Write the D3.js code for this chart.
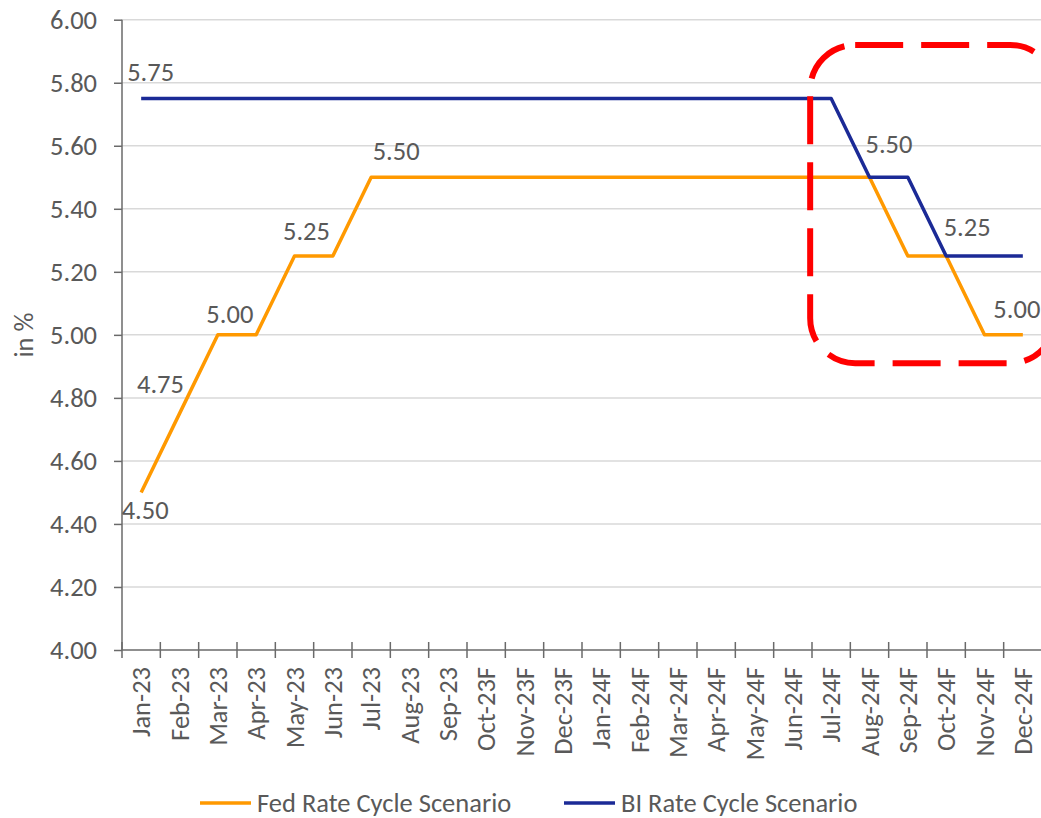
<!DOCTYPE html>
<html>
<head>
<meta charset="utf-8">
<script src="https://cdn.jsdelivr.net/npm/d3@7"></script>
<style>
  html, body { margin: 0; padding: 0; background: #fff; }
  svg text { font-family: Carlito, Calibri, Lato, "Open Sans", sans-serif; fill: #595959; }
</style>
</head>
<body>
<svg id="chart" width="1041" height="818"></svg>
<script>
const categories = ["Jan-23","Feb-23","Mar-23","Apr-23","May-23","Jun-23","Jul-23","Aug-23","Sep-23",
  "Oct-23F","Nov-23F","Dec-23F","Jan-24F","Feb-24F","Mar-24F","Apr-24F","May-24F","Jun-24F",
  "Jul-24F","Aug-24F","Sep-24F","Oct-24F","Nov-24F","Dec-24F"];
const fedRate = [4.50,4.75,5.00,5.00,5.25,5.25,5.50,5.50,5.50,5.50,5.50,5.50,
  5.50,5.50,5.50,5.50,5.50,5.50,5.50,5.50,5.25,5.25,5.00,5.00];
const biRate = [5.75,5.75,5.75,5.75,5.75,5.75,5.75,5.75,5.75,5.75,5.75,5.75,
  5.75,5.75,5.75,5.75,5.75,5.75,5.75,5.50,5.50,5.25,5.25,5.25];
const yTicks = [4.00,4.20,4.40,4.60,4.80,5.00,5.20,5.40,5.60,5.80,6.00];
const fedLabelIdx = [0,1,2,4,6,23];
const biLabelIdx = [0,19,21];
const seriesNames = ["Fed Rate Cycle Scenario","BI Rate Cycle Scenario"];

const colors = { fed: "#FF9900", bi: "#1B2A96", grid: "#D9D9D9", axis: "#6A6A6A" };
const fontSize = 26.5;

const svg = d3.select("#chart");
const mLeft = 122, mRight = 1042, mTop = 19.7, mBottom = 650;

const x = d3.scaleBand().domain(categories).range([mLeft, mRight]).padding(0);
const xc = c => x(c) + x.bandwidth() / 2;
const y = d3.scaleLinear().domain([4, 6]).range([mBottom, mTop]);

// gridlines
svg.append("g").selectAll("line").data(yTicks.filter(d => d > 4)).join("line")
  .attr("x1", mLeft).attr("x2", 1041).attr("y1", d => y(d)).attr("y2", d => y(d))
  .attr("stroke", colors.grid).attr("stroke-width", 1.5);

// y axis
const yAxis = svg.append("g").attr("transform", `translate(${mLeft},0)`)
  .call(d3.axisLeft(y).tickValues(yTicks).tickFormat(d3.format(".2f")).tickSize(8).tickPadding(17));
yAxis.select(".domain").attr("stroke", colors.axis).attr("stroke-width", 1.5).attr("d", `M0,${mTop}V${mBottom}`);
yAxis.selectAll(".tick line").attr("stroke", colors.axis).attr("stroke-width", 1.5);
yAxis.selectAll(".tick text").style("font-size", fontSize + "px").attr("fill", "#595959")
  .style("font-family", "Carlito, Calibri, Lato, sans-serif");

// x axis: ticks at band boundaries
const xg = svg.append("g");
xg.append("line").attr("x1", mLeft).attr("x2", 1041).attr("y1", mBottom).attr("y2", mBottom)
  .attr("stroke", colors.axis).attr("stroke-width", 1.5);
xg.selectAll("line.tk").data(categories).join("line").attr("class", "tk")
  .attr("x1", d => x(d)).attr("x2", d => x(d)).attr("y1", mBottom - 8).attr("y2", mBottom + 8)
  .attr("stroke", colors.axis).attr("stroke-width", 1.5);
xg.selectAll("text").data(categories).join("text")
  .attr("transform", d => `translate(${xc(d)},${mBottom + 17}) rotate(-90)`)
  .attr("text-anchor", "end").attr("dy", "0.35em")
  .style("font-size", fontSize + "px").text(d => d);

// y title
svg.append("text").attr("transform", `translate(24,335) rotate(-90)`)
  .attr("text-anchor", "middle").attr("dy", "0.35em").style("font-size", fontSize + "px").text("in %");

// lines
const line = d3.line().x((d, i) => xc(categories[i])).y(d => y(d));
svg.append("path").datum(fedRate).attr("d", line).attr("fill", "none")
  .attr("stroke", colors.fed).attr("stroke-width", 3.5).attr("stroke-linejoin", "round");
svg.append("path").datum(biRate).attr("d", line).attr("fill", "none")
  .attr("stroke", colors.bi).attr("stroke-width", 3.5).attr("stroke-linejoin", "round");

// data labels (offset from their point, [dx of centre, dy of baseline])
const fedOffsets = { 0: [4, 27], 1: [-19, -21], 2: [12, -12], 4: [12, -16], 6: [25, -17], 23: [-6, -17] };
const biOffsets = { 0: [9.5, -17], 19: [19.5, -24], 21: [21, -20] };
function addLabels(idx, vals, offs) {
  svg.append("g").selectAll("text").data(idx).join("text")
    .attr("x", i => xc(categories[i]) + offs[i][0])
    .attr("y", i => y(vals[i]) + offs[i][1])
    .attr("text-anchor", "middle").style("font-size", fontSize + "px")
    .text(i => d3.format(".2f")(vals[i]));
}
addLabels(fedLabelIdx, fedRate, fedOffsets);
addLabels(biLabelIdx, biRate, biOffsets);

// highlight box
svg.append("rect").attr("x", xc("Jul-24F") - 21).attr("y", y(5.92)).attr("width", 245).attr("height", y(4.91) - y(5.92))
  .attr("rx", 45).attr("ry", 45).attr("fill", "none")
  .attr("stroke", "#FF0000").attr("stroke-width", 6).attr("stroke-dasharray", "48,18");

// legend
const legend = svg.append("g");
const legItems = [
  { name: seriesNames[0], color: colors.fed, x0: 200 },
  { name: seriesNames[1], color: colors.bi, x0: 564 }
];
legItems.forEach(it => {
  legend.append("line").attr("x1", it.x0).attr("x2", it.x0 + 51).attr("y1", 803).attr("y2", 803)
    .attr("stroke", it.color).attr("stroke-width", 3.5);
  legend.append("text").attr("x", it.x0 + 57).attr("y", 803).attr("dy", "0.35em")
    .style("font-size", fontSize + "px").text(it.name);
});
</script>
</body>
</html>
